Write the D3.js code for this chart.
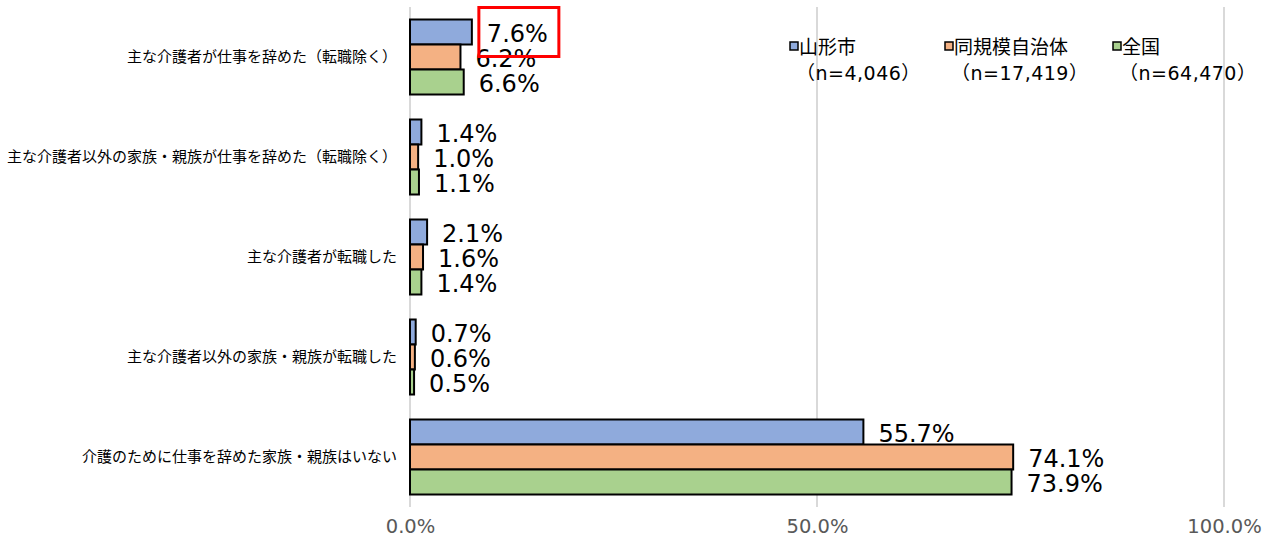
<!DOCTYPE html>
<html><head><meta charset="utf-8">
<script src="https://cdn.jsdelivr.net/npm/d3@7"></script>
<style>
body{margin:0;background:#fff;}
svg{display:block;font-family:"DejaVu Sans","Noto Sans CJK JP",sans-serif;}
</style></head>
<body><svg id="c" width="1275" height="538"></svg>
<script>
const categories = [
  "主な介護者が仕事を辞めた（転職除く）",
  "主な介護者以外の家族・親族が仕事を辞めた（転職除く）",
  "主な介護者が転職した",
  "主な介護者以外の家族・親族が転職した",
  "介護のために仕事を辞めた家族・親族はいない"
];
const seriesNames = ["山形市", "同規模自治体", "全国"];
const seriesN = ["（n=4,046）", "（n=17,419）", "（n=64,470）"];
const yamagata = [7.6, 1.4, 2.1, 0.7, 55.7];
const similar  = [6.2, 1.0, 1.6, 0.6, 74.1];
const national = [6.6, 1.1, 1.4, 0.5, 73.9];
const xTicks = [0, 50, 100];
const colors = ["#8faadc", "#f4b183", "#a9d18e"];

const series = [yamagata, similar, national];
const svg = d3.select("#c");
const x = d3.scaleLinear().domain([0, 100]).range([410, 1224]);
const y = d3.scaleBand().domain(categories).range([7, 507]).paddingInner(0.25).paddingOuter(0.125);
const ySub = d3.scaleBand().domain(d3.range(3)).range([0, y.bandwidth()]);

// gridlines
svg.append("g").selectAll("line").data(xTicks).join("line")
  .attr("x1", d => x(d)).attr("x2", d => x(d))
  .attr("y1", 7).attr("y2", 507)
  .attr("stroke", "#d9d9d9").attr("stroke-width", 2);

// x-axis tick labels
const ax = svg.append("g").attr("transform", "translate(0,507)")
  .call(d3.axisBottom(x).tickValues(xTicks).tickFormat(d => d.toFixed(1) + "%").tickSize(0).tickPadding(12));
ax.select(".domain").remove();
ax.selectAll("text").attr("font-size", 19.5).attr("fill", "#595959").attr("font-family", "DejaVu Sans, sans-serif");

// bars
const groups = svg.append("g").selectAll("g").data(series).join("g");
groups.selectAll("rect").data((d, i) => d.map((v, j) => ({v, i, j}))).join("rect")
  .attr("x", x(0))
  .attr("y", d => y(categories[d.j]) + ySub(d.i))
  .attr("width", d => x(d.v) - x(0))
  .attr("height", ySub.bandwidth())
  .attr("fill", d => colors[d.i])
  .attr("stroke", "#000").attr("stroke-width", 2);

// value labels
groups.selectAll("text").data((d, i) => d.map((v, j) => ({v, i, j}))).join("text")
  .attr("x", d => x(d.v) + 15)
  .attr("y", d => y(categories[d.j]) + ySub(d.i) + ySub.bandwidth() / 2 + 1)
  .attr("dy", "0.36em")
  .attr("font-size", 24)
  .attr("fill", "#000")
  .text(d => d.v.toFixed(1) + "%");

// highlight box around the first value
const hx = x(yamagata[0]) + 7, hy = y(categories[0]) - 12;
svg.append("rect").attr("x", hx).attr("y", hy).attr("width", 80).attr("height", 49)
  .attr("fill", "none").attr("stroke", "#ff0000").attr("stroke-width", 3);

// category labels
svg.append("g").selectAll("text").data(categories).join("text")
  .attr("x", 397).attr("y", d => y(d) + y.bandwidth() / 2)
  .attr("dy", "0.35em").attr("text-anchor", "end")
  .attr("font-size", 15).attr("fill", "#000")
  .attr("font-family", "Noto Sans CJK JP, sans-serif")
  .text(d => d);

// legend
const legX = [790, 945, 1113];
const leg = svg.append("g").selectAll("g").data(seriesNames).join("g")
  .attr("transform", (d, i) => `translate(${legX[i]},0)`);
leg.append("rect").attr("x", 0).attr("y", 42).attr("width", 8).attr("height", 8)
  .attr("fill", (d, i) => colors[i]).attr("stroke", "#000").attr("stroke-width", 1.5);
leg.append("text").attr("x", 9).attr("y", 47).attr("dy", "0.35em")
  .attr("font-size", 19).attr("font-family", "Noto Sans CJK JP, sans-serif").text(d => d);
leg.append("text").attr("x", 6).attr("y", 73).attr("dy", "0.35em")
  .attr("font-size", 19).attr("letter-spacing", 0.5).text((d, i) => seriesN[i]);
</script></body></html>
